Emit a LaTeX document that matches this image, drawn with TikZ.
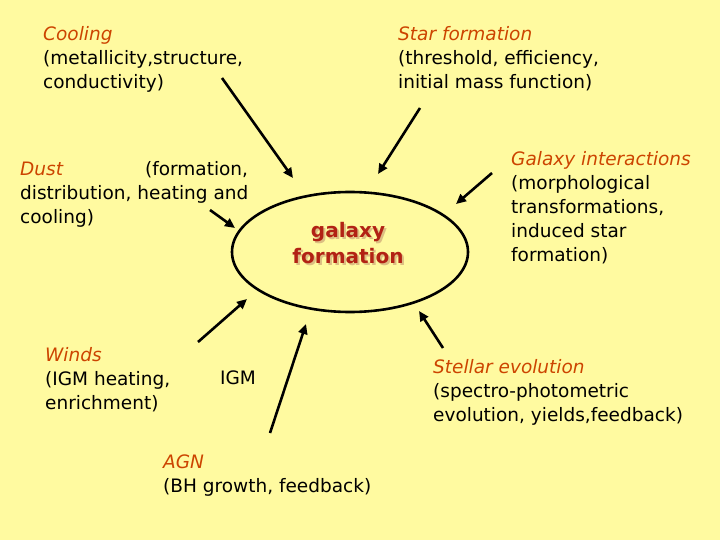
\documentclass[tikz,border=0pt]{standalone}
\usepackage{fontspec}
\setmainfont{DejaVu Sans}
\usetikzlibrary{arrows.meta}
\definecolor{fondo}{RGB}{255,250,160}
\definecolor{titulo}{RGB}{204,68,0}
\definecolor{galaxia}{RGB}{178,34,20}
\definecolor{sombra}{RGB}{220,190,130}

\begin{document}
\begin{tikzpicture}[x=1pt,y=-1pt,
  txt/.style={anchor=north west,align=left,inner sep=0pt,font=\fontsize{18.5}{24}\selectfont},
  seta/.style={line width=2.6pt,-{Triangle[length=10pt,width=9pt]}}]
\fill[fondo] (0,0) rectangle (720,540);
\useasboundingbox (0,0) rectangle (720,540);
% central ellipse
\draw[line width=2.6pt] (350,252) ellipse [x radius=118, y radius=60];
\node[font=\bfseries\fontsize{20}{26}\selectfont,align=center,text=sombra] (galsombra) at (350,245) {galaxy\\formation};
\node[font=\bfseries\fontsize{20}{26}\selectfont,align=center,text=galaxia] (galaxia) at (348,243) {galaxy\\formation};
% texts
\node[txt] (cooling) at (43,26) {\textcolor{titulo}{\itshape Cooling}\\(metallicity,structure,\\conductivity)};
\node[txt] (star) at (398,26) {\textcolor{titulo}{\itshape Star formation}\\(threshold, efficiency,\\initial mass function)};
\node[txt] (dust) at (20,161) {\textcolor{titulo}{\itshape Dust}\hspace{82pt}(formation,\\distribution, heating and\\cooling)};
\node[txt] (inter) at (511,151) {\textcolor{titulo}{\itshape Galaxy interactions}\\(morphological\\transformations,\\induced star\\formation)};
\node[txt] (winds) at (45,347) {\textcolor{titulo}{\itshape Winds}\\(IGM heating,\\enrichment)};
\node[txt] (igm) at (220,371) {IGM};
\node[txt] (agn) at (163,455) {\textcolor{titulo}{\itshape AGN}\\(BH growth, feedback)};
\node[txt] (stellar) at (433,359) {\textcolor{titulo}{\itshape Stellar evolution}\\(spectro-photometric\\evolution, yields,feedback)};
% arrows
\coordinate (c1) at (222,78);  \coordinate (c2) at (293,178);
\coordinate (d1) at (210,210); \coordinate (d2) at (235,228);
\coordinate (s1) at (420,108); \coordinate (s2) at (378,174);
\coordinate (g1) at (492,173); \coordinate (g2) at (456,204);
\coordinate (w1) at (198,342); \coordinate (w2) at (247,299);
\coordinate (a1) at (270,433); \coordinate (a2) at (306,324);
\coordinate (e1) at (443,348); \coordinate (e2) at (419,311);
\draw[seta] (c1) -- (c2);
\draw[seta] (d1) -- (d2);
\draw[seta] (s1) -- (s2);
\draw[seta] (g1) -- (g2);
\draw[seta] (w1) -- (w2);
\draw[seta] (a1) -- (a2);
\draw[seta] (e1) -- (e2);
\end{tikzpicture}
\end{document}
